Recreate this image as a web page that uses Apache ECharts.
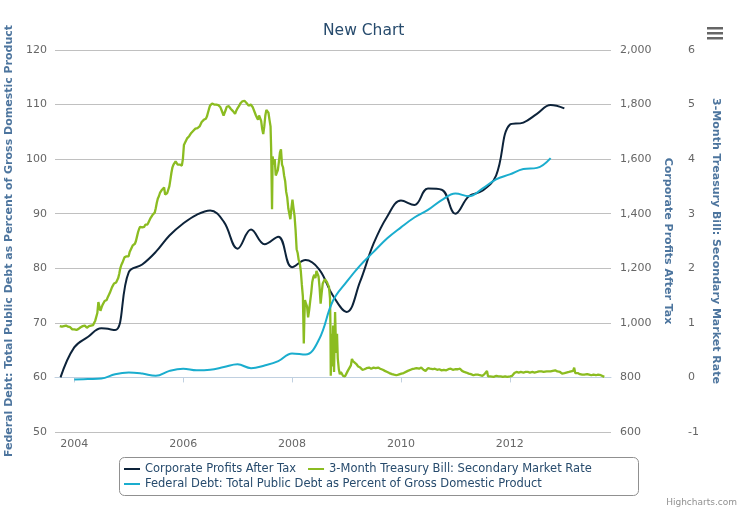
<!DOCTYPE html>
<html>
<head>
<meta charset="utf-8">
<script src="https://cdn.jsdelivr.net/npm/echarts@6/dist/echarts.min.js"></script>
<style>
html,body{margin:0;padding:0;background:#fff;}
#chart{width:746px;height:523px;}
</style>
</head>
<body>
<div id="chart"></div>
<script>
// ---------- DATA ----------
const chartTitle = 'New Chart';
const seriesNames = [
  'Corporate Profits After Tax',
  '3-Month Treasury Bill: Secondary Market Rate',
  'Federal Debt: Total Public Debt as Percent of Gross Domestic Product'
];
const yearTickLabels = ['2004', '2006', '2008', '2010', '2012'];

// Corporate Profits After Tax (quarterly, billions)
const profitDates = [
  '2003-10-01',
  '2004-01-01','2004-04-01','2004-07-01','2004-10-01',
  '2005-01-01','2005-04-01','2005-07-01','2005-10-01',
  '2006-01-01','2006-04-01','2006-07-01','2006-10-01',
  '2007-01-01','2007-04-01','2007-07-01','2007-10-01',
  '2008-01-01','2008-04-01','2008-07-01','2008-10-01',
  '2009-01-01','2009-04-01','2009-07-01','2009-10-01',
  '2010-01-01','2010-04-01','2010-07-01','2010-10-01',
  '2011-01-01','2011-04-01','2011-07-01','2011-10-01',
  '2012-01-01','2012-04-01','2012-07-01','2012-10-01',
  '2013-01-01'
];
const profitValues = [
  800,
  910, 948, 980, 974,
  1186, 1214, 1260, 1320,
  1364, 1396, 1412, 1370,
  1272, 1342, 1288, 1316,
  1204, 1230, 1196, 1100,
  1040, 1150, 1290, 1390,
  1448, 1432, 1492, 1488,
  1400, 1464, 1484, 1540,
  1726, 1734, 1766, 1798,
  1786
];

// Federal Debt as % of GDP (quarterly)
const debtDates = [
  '2004-01-01','2004-04-01','2004-07-01','2004-10-01',
  '2005-01-01','2005-04-01','2005-07-01','2005-10-01',
  '2006-01-01','2006-04-01','2006-07-01','2006-10-01',
  '2007-01-01','2007-04-01','2007-07-01','2007-10-01',
  '2008-01-01','2008-04-01','2008-07-01','2008-10-01',
  '2009-01-01','2009-04-01','2009-07-01','2009-10-01',
  '2010-01-01','2010-04-01','2010-07-01','2010-10-01',
  '2011-01-01','2011-04-01','2011-07-01','2011-10-01',
  '2012-01-01','2012-04-01','2012-07-01','2012-10-01'
];
const debtValues = [
  59.6, 59.7, 59.8, 60.6,
  60.9, 60.7, 60.3, 61.2,
  61.6, 61.3, 61.4, 61.9,
  62.4, 61.7, 62.2, 63.0,
  64.4, 64.2, 67.0, 74.0,
  77.5, 80.5, 83.0, 85.5,
  87.5, 89.3, 90.7, 92.5,
  93.7, 93.2, 94.6, 96.3,
  97.2, 98.2, 98.4, 100.2
];

// 3-Month Treasury Bill rate (%)
const tbillDates = [
  '2003-09-26','2003-10-03','2003-10-10','2003-10-17','2003-10-24','2003-10-31','2003-11-07','2003-11-14','2003-11-21','2003-11-28',
  '2003-12-05','2003-12-12','2003-12-19','2003-12-26','2004-01-02','2004-01-09','2004-01-16','2004-01-23','2004-01-30','2004-02-06',
  '2004-02-13','2004-02-20','2004-02-27','2004-03-05','2004-03-12','2004-03-19','2004-03-26','2004-04-02','2004-04-09','2004-04-16',
  '2004-04-23','2004-04-30','2004-05-07','2004-05-14','2004-05-21','2004-05-28','2004-06-04','2004-06-11','2004-06-18','2004-06-25',
  '2004-07-02','2004-07-09','2004-07-16','2004-07-23','2004-07-30','2004-08-06','2004-08-13','2004-08-20','2004-08-27','2004-09-03',
  '2004-09-10','2004-09-17','2004-09-24','2004-10-01','2004-10-08','2004-10-15','2004-10-22','2004-10-29','2004-11-05','2004-11-12',
  '2004-11-19','2004-11-26','2004-12-03','2004-12-10','2004-12-17','2004-12-24','2004-12-31',
  '2005-01-07','2005-01-14','2005-01-21','2005-01-28','2005-02-04','2005-02-11','2005-02-18','2005-02-25','2005-03-04','2005-03-11',
  '2005-03-18','2005-03-25','2005-04-01','2005-04-08','2005-04-15','2005-04-22','2005-04-29','2005-05-06','2005-05-13','2005-05-20',
  '2005-05-27','2005-06-03','2005-06-10','2005-06-17','2005-06-24','2005-07-01','2005-07-08','2005-07-15','2005-07-22','2005-07-29',
  '2005-08-05','2005-08-12','2005-08-19','2005-08-26','2005-09-02','2005-09-09','2005-09-16','2005-09-23','2005-09-30','2005-10-07',
  '2005-10-14','2005-10-21','2005-10-28','2005-11-04','2005-11-11','2005-11-18','2005-11-25','2005-12-02','2005-12-09','2005-12-16',
  '2005-12-23','2005-12-30',
  '2006-01-06','2006-01-13','2006-01-20','2006-01-27','2006-02-03','2006-02-10','2006-02-17','2006-02-24','2006-03-03','2006-03-10',
  '2006-03-17','2006-03-24','2006-03-31','2006-04-07','2006-04-14','2006-04-21','2006-04-28','2006-05-05','2006-05-12','2006-05-19',
  '2006-05-26','2006-06-02','2006-06-09','2006-06-16','2006-06-23','2006-06-30','2006-07-07','2006-07-14','2006-07-21','2006-07-28',
  '2006-08-04','2006-08-11','2006-08-18','2006-08-25','2006-09-01','2006-09-08','2006-09-15','2006-09-22','2006-09-29','2006-10-06',
  '2006-10-13','2006-10-20','2006-10-27','2006-11-03','2006-11-10','2006-11-17','2006-11-24','2006-12-01','2006-12-08','2006-12-15',
  '2006-12-22','2006-12-29',
  '2007-01-05','2007-01-12','2007-01-19','2007-01-26','2007-02-02','2007-02-09','2007-02-16','2007-02-23','2007-03-02','2007-03-09',
  '2007-03-16','2007-03-23','2007-03-30','2007-04-06','2007-04-13','2007-04-20','2007-04-27','2007-05-04','2007-05-11','2007-05-18',
  '2007-05-25','2007-06-01','2007-06-08','2007-06-15','2007-06-22','2007-06-29','2007-07-06','2007-07-13','2007-07-20','2007-07-27',
  '2007-08-03','2007-08-10','2007-08-14','2007-08-20','2007-08-24','2007-08-31','2007-09-07','2007-09-14','2007-09-21','2007-09-28',
  '2007-10-05','2007-10-12','2007-10-19','2007-10-26','2007-11-02','2007-11-09','2007-11-16','2007-11-23','2007-11-30','2007-12-07',
  '2007-12-14','2007-12-21','2007-12-28',
  '2008-01-04','2008-01-11','2008-01-18','2008-01-25','2008-02-01','2008-02-08','2008-02-15','2008-02-22','2008-02-29','2008-03-07',
  '2008-03-14','2008-03-20','2008-03-24','2008-03-28','2008-04-04','2008-04-11','2008-04-18','2008-04-25','2008-05-02','2008-05-09',
  '2008-05-16','2008-05-23','2008-05-30','2008-06-06','2008-06-13','2008-06-20','2008-06-27','2008-07-04','2008-07-11','2008-07-18',
  '2008-07-25','2008-08-01','2008-08-08','2008-08-15','2008-08-22','2008-08-29','2008-09-05','2008-09-12','2008-09-15','2008-09-17',
  '2008-09-22','2008-09-29','2008-10-03','2008-10-09','2008-10-16','2008-10-23','2008-10-29','2008-11-03','2008-11-10','2008-11-17',
  '2008-11-24','2008-12-01','2008-12-08','2008-12-15','2008-12-22','2008-12-29',
  '2009-01-09','2009-01-19','2009-01-30','2009-02-06','2009-02-13','2009-02-20','2009-03-06','2009-03-13','2009-03-20','2009-04-03',
  '2009-04-17','2009-05-01','2009-05-15','2009-06-01','2009-06-15','2009-07-01','2009-07-15','2009-08-01','2009-08-15','2009-09-01',
  '2009-09-15','2009-10-01','2009-10-15','2009-11-02','2009-11-16','2009-12-01','2009-12-15',
  '2010-01-04','2010-01-19','2010-02-01','2010-02-16','2010-03-01','2010-03-15','2010-04-01','2010-04-15','2010-05-03','2010-05-17',
  '2010-06-01','2010-06-15','2010-07-01','2010-07-15','2010-08-02','2010-08-16','2010-09-01','2010-09-15','2010-10-01','2010-10-15',
  '2010-11-01','2010-11-15','2010-12-01','2010-12-15',
  '2011-01-03','2011-01-18','2011-02-01','2011-02-15','2011-03-01','2011-03-15','2011-04-01','2011-04-15','2011-05-02','2011-05-16',
  '2011-06-01','2011-06-15','2011-07-01','2011-07-15','2011-08-01','2011-08-08','2011-08-22','2011-09-01','2011-09-15','2011-10-03',
  '2011-10-17','2011-11-01','2011-11-15','2011-12-01','2011-12-15',
  '2012-01-03','2012-01-17','2012-02-01','2012-02-15','2012-03-01','2012-03-15','2012-04-02','2012-04-16','2012-05-01','2012-05-15',
  '2012-06-01','2012-06-15','2012-07-02','2012-07-16','2012-08-01','2012-08-15','2012-09-04','2012-09-17','2012-10-01','2012-10-15',
  '2012-11-01','2012-11-15','2012-12-03','2012-12-17',
  '2013-01-02','2013-01-15','2013-02-01','2013-02-15','2013-03-01','2013-03-08','2013-03-15','2013-04-01','2013-04-15','2013-05-01',
  '2013-05-15','2013-06-03','2013-06-17','2013-07-01','2013-07-15','2013-08-01','2013-08-15','2013-09-03','2013-09-16','2013-09-26'
];
const tbillRates = [
  0.94,0.92,0.93,0.91,0.94,0.93,0.95,0.92,0.93,0.91,
  0.92,0.89,0.88,0.90,0.88,0.86,0.87,0.85,0.89,0.91,
  0.92,0.93,0.94,0.93,0.95,0.93,0.91,0.93,0.94,0.93,
  0.95,0.94,0.96,1.00,1.04,1.06,1.18,1.38,1.30,1.22,
  1.28,1.33,1.35,1.40,1.43,1.42,1.47,1.45,1.55,1.60,
  1.65,1.68,1.72,1.70,1.74,1.77,1.82,1.90,2.00,2.06,
  2.10,2.15,2.20,2.18,2.22,2.25,2.22,
  2.30,2.33,2.38,2.42,2.44,2.45,2.50,2.58,2.66,2.72,
  2.76,2.78,2.75,2.73,2.76,2.80,2.82,2.80,2.84,2.88,
  2.92,2.95,2.98,3.00,3.02,3.10,3.20,3.28,3.32,3.38,
  3.40,3.44,3.46,3.48,3.35,3.32,3.38,3.40,3.50,3.62,
  3.75,3.85,3.90,3.92,3.96,3.94,3.90,3.88,3.90,3.92,
  3.88,4.00,
  4.26,4.30,4.32,4.38,4.40,4.42,4.43,4.48,4.50,4.52,
  4.55,4.56,4.58,4.57,4.58,4.60,4.64,4.68,4.70,4.72,
  4.70,4.74,4.78,4.85,4.92,4.98,5.00,5.02,5.01,5.00,
  5.02,5.00,4.98,4.99,4.98,4.95,4.90,4.85,4.80,4.77,
  4.90,4.96,4.99,4.97,4.95,4.92,4.90,4.88,4.85,4.83,
  4.88,4.92,
  4.95,4.98,5.02,5.04,5.06,5.05,5.07,5.05,5.03,5.01,
  4.98,4.96,5.00,4.98,4.95,4.92,4.85,4.80,4.76,4.72,
  4.80,4.78,4.70,4.55,4.46,4.60,4.80,4.90,4.92,4.85,
  4.72,4.60,4.20,3.08,4.05,3.90,4.00,3.70,3.75,3.80,
  3.95,4.12,4.18,3.90,3.85,3.70,3.60,3.40,3.30,3.10,
  3.00,2.90,3.10,
  3.26,3.10,2.96,2.70,2.35,2.28,2.15,2.10,1.95,1.70,
  1.48,0.62,1.10,1.42,1.35,1.30,1.10,1.23,1.40,1.55,
  1.75,1.84,1.88,1.82,1.95,1.97,1.85,1.65,1.35,1.55,
  1.72,1.70,1.80,1.81,1.75,1.70,1.66,1.45,0.90,0.03,
  0.80,0.20,0.95,0.10,1.20,0.45,0.80,0.35,0.15,0.06,
  0.10,0.08,0.03,0.05,0.02,0.05,
  0.12,0.10,0.22,0.34,0.30,0.28,0.25,0.22,0.20,0.18,
  0.14,0.15,0.17,0.18,0.16,0.18,0.17,0.18,0.16,0.14,
  0.12,0.10,0.08,0.06,0.05,0.04,0.05,
  0.07,0.08,0.10,0.12,0.14,0.15,0.16,0.17,0.16,0.18,
  0.14,0.12,0.17,0.16,0.15,0.16,0.14,0.15,0.13,0.14,
  0.13,0.15,0.16,0.14,
  0.15,0.15,0.16,0.12,0.10,0.09,0.07,0.06,0.04,0.05,
  0.05,0.04,0.03,0.06,0.12,0.02,0.02,0.03,0.01,0.03,
  0.02,0.02,0.01,0.02,0.01,
  0.02,0.03,0.08,0.10,0.09,0.10,0.09,0.10,0.10,0.09,
  0.10,0.09,0.10,0.11,0.11,0.10,0.11,0.12,0.11,0.12,
  0.13,0.11,0.10,0.07,
  0.08,0.09,0.10,0.11,0.12,0.18,0.08,0.08,0.06,0.05,
  0.05,0.06,0.05,0.04,0.05,0.04,0.05,0.04,0.03,0.01
];

// ---------- CHART ----------
const FONT = '"DejaVu Sans", Verdana, Arial, sans-serif';
const toTime = s => { const p = s.split('-').map(Number); return Date.UTC(p[0], p[1] - 1, p[2]); };
const zip = (dates, vals) => dates.map((d, i) => [toTime(d), vals[i]]);
const yearTicks = yearTickLabels.map(y => Date.UTC(+y, 0, 1));
const xMin = toTime('2003-08-25');
const xMax = toTime('2013-11-10');

const chart = echarts.init(document.getElementById('chart'), null, {renderer: 'canvas'});
const axisTitleStyle = {color: '#4d759e', fontWeight: 'bold', fontSize: 11, fontFamily: FONT};
const tickLabelStyle = {color: '#666666', fontSize: 11, fontFamily: FONT};

chart.setOption({
  animation: false,
  backgroundColor: '#ffffff',
  title: {
    text: chartTitle,
    left: 323, top: 23, padding: 0,
    textStyle: {color: '#274b6d', fontSize: 15.5, fontWeight: 'normal', fontFamily: FONT}
  },
  grid: {left: 55, right: 135, top: 50, bottom: 91, containLabel: false, outerBoundsMode: 'none'},
  legend: [
    {
      data: [seriesNames[0], seriesNames[1]],
      left: 124, top: 463, padding: 0, itemGap: 12,
      icon: 'rect', itemWidth: 16, itemHeight: 2,
      textStyle: {color: '#274b6d', fontSize: 11.5, fontFamily: FONT},
      selectedMode: false
    },
    {
      data: [seriesNames[2]],
      left: 124, top: 478, padding: 0,
      icon: 'rect', itemWidth: 16, itemHeight: 2,
      textStyle: {color: '#274b6d', fontSize: 11.5, fontFamily: FONT},
      selectedMode: false
    }
  ],
  graphic: [
    {type: 'rect', left: 117, top: 455, shape: {width: 519, height: 38, r: 5},
     style: {fill: 'none', stroke: '#909090', lineWidth: 1}, silent: true},
    {type: 'text', right: 9, top: 498,
     style: {text: 'Highcharts.com', fill: '#909090', font: '9px ' + FONT}},
    {type: 'group', left: 707, top: 27, children: [
      {type: 'rect', shape: {x: 0, y: 0, width: 16, height: 2.5}, style: {fill: '#666666'}},
      {type: 'rect', shape: {x: 0, y: 5, width: 16, height: 2.5}, style: {fill: '#666666'}},
      {type: 'rect', shape: {x: 0, y: 10, width: 16, height: 2.5}, style: {fill: '#666666'}}
    ]}
  ],
  xAxis: {
    type: 'value', min: xMin, max: xMax,
    axisLine: {show: true, lineStyle: {color: '#C0D0E0', width: 1}},
    axisTick: {show: true, customValues: yearTicks, length: 5, lineStyle: {color: '#C0D0E0'}},
    axisLabel: {customValues: yearTicks, ...tickLabelStyle, margin: 7,
      formatter: v => String(new Date(v).getUTCFullYear())},
    splitLine: {show: false}
  },
  yAxis: [
    {
      type: 'value', position: 'left', min: 50, max: 120, interval: 10,
      name: seriesNames[2], nameLocation: 'middle', nameRotate: 90, nameGap: 35,
      nameTextStyle: axisTitleStyle,
      axisLine: {show: false}, axisTick: {show: false},
      axisLabel: {...tickLabelStyle, margin: 8},
      splitLine: {show: true, lineStyle: {color: '#C0C0C0', width: 1}}
    },
    {
      type: 'value', position: 'right', min: 600, max: 2000, interval: 200,
      name: seriesNames[0], nameLocation: 'middle', nameRotate: -90, nameGap: 50,
      nameTextStyle: axisTitleStyle,
      axisLine: {show: false}, axisTick: {show: false},
      axisLabel: {...tickLabelStyle, margin: 9, formatter: v => v.toLocaleString('en-US')},
      splitLine: {show: false}
    },
    {
      type: 'value', position: 'right', offset: 70, min: -1, max: 6, interval: 1,
      name: seriesNames[1], nameLocation: 'middle', nameRotate: -90, nameGap: 29,
      nameTextStyle: axisTitleStyle,
      axisLine: {show: false}, axisTick: {show: false},
      axisLabel: {...tickLabelStyle, margin: 7},
      splitLine: {show: false}
    }
  ],
  series: [
    {
      name: seriesNames[0], type: 'line', yAxisIndex: 1, smooth: 0.4,
      showSymbol: false, symbol: 'none', color: '#0d233a',
      lineStyle: {width: 2, color: '#0d233a'},
      data: zip(profitDates, profitValues), z: 2
    },
    {
      name: seriesNames[1], type: 'line', yAxisIndex: 2, smooth: false,
      showSymbol: false, symbol: 'none', color: '#8bbc21',
      lineStyle: {width: 2.3, color: '#8bbc21'},
      data: zip(tbillDates, tbillRates), z: 3
    },
    {
      name: seriesNames[2], type: 'line', yAxisIndex: 0, smooth: 0.4,
      showSymbol: false, symbol: 'none', color: '#1aadce',
      lineStyle: {width: 2, color: '#1aadce'},
      data: zip(debtDates, debtValues), z: 4
    }
  ]
});
</script>
</body>
</html>
